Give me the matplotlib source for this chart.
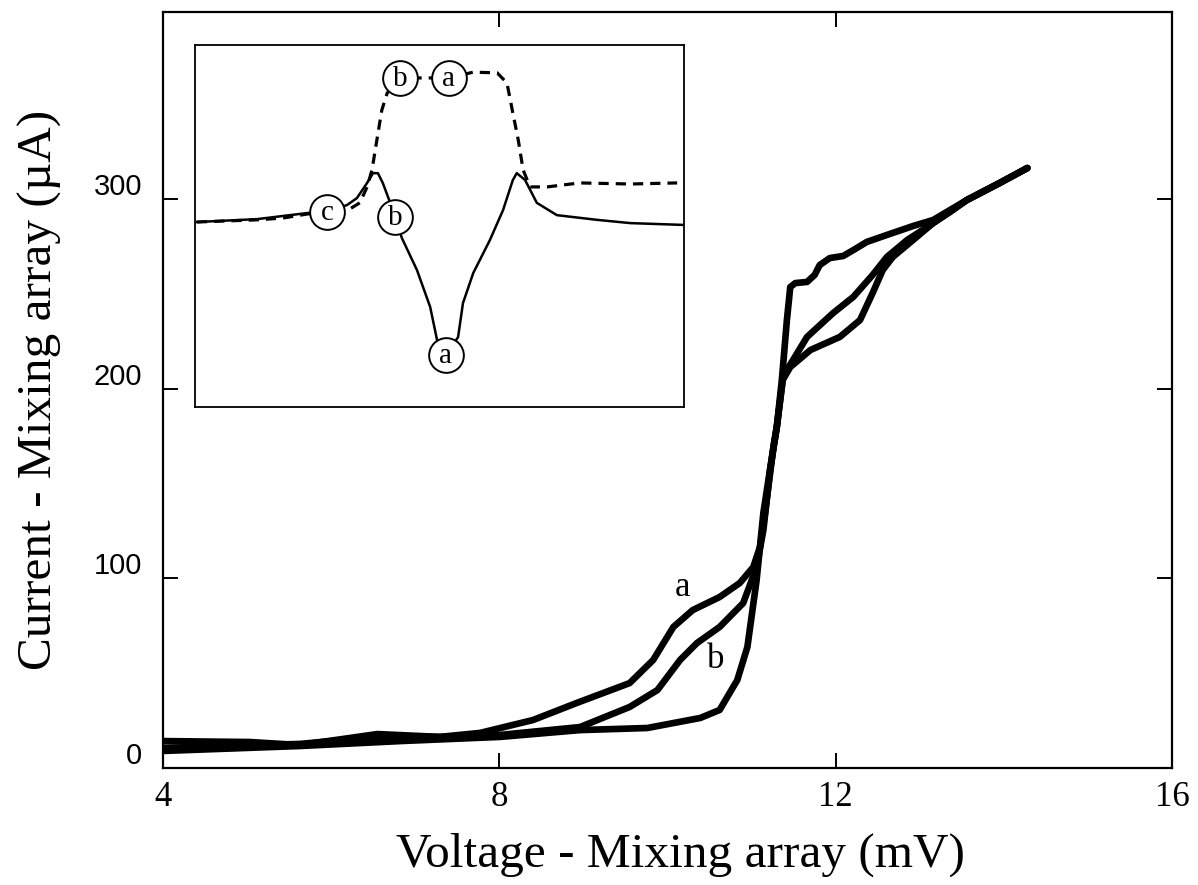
import matplotlib
matplotlib.use('Agg')
import matplotlib.pyplot as plt
from matplotlib.transforms import ScaledTranslation

# ---------------- data (main panel) ----------------
volt_a = [4.00, 5.03, 5.63, 6.55, 7.29, 7.77, 8.40, 8.92, 9.55, 9.83, 10.07, 10.30, 10.62,
          10.86, 11.02, 11.10, 11.16, 11.26, 11.30, 11.37, 11.46, 11.70, 12.05, 12.29,
          12.44, 12.56, 12.68, 12.92, 13.16, 13.56, 13.95, 14.28]
curr_a = [14.2, 13.7, 12.1, 17.9, 16.4, 18.5, 25.3, 34.3, 44.8, 57.0, 74.4, 83.3, 90.2,
          97.6, 106.0, 116.6, 134.5, 169.3, 179.9, 204.7, 211.5, 220.5, 227.4, 236.3,
          250.6, 262.7, 269.6, 278.5, 287.5, 299.6, 308.6, 316.5]

volt_b = [4.00, 5.63, 6.55, 7.77, 8.96, 9.55, 9.88, 10.15, 10.35, 10.62, 10.90, 11.06,
          11.14, 11.22, 11.30, 11.37, 11.42, 11.66, 11.97, 12.21, 12.44, 12.61, 12.85,
          13.09, 13.36, 13.56, 13.95, 14.28]
curr_b = [10.6, 12.7, 16.4, 16.4, 21.6, 32.2, 41.1, 57.0, 65.9, 74.4, 87.0, 106.0,
          125.5, 157.2, 179.9, 204.7, 209.9, 227.4, 240.0, 248.5, 260.1, 269.6, 278.5,
          285.4, 293.3, 299.6, 308.6, 316.5]

volt_c = [4.00, 5.63, 6.82, 8.01, 8.96, 9.76, 10.39, 10.62, 10.83, 10.95, 11.06, 11.14,
          11.20, 11.26, 11.30, 11.36, 11.42, 11.46, 11.52, 11.66, 11.75, 11.81, 11.93,
          12.09, 12.21, 12.37, 12.61, 12.92, 13.16, 13.56, 13.95, 14.28]
curr_c = [9.0, 11.6, 14.2, 16.4, 20.0, 21.1, 26.4, 30.6, 46.4, 63.8, 99.2, 134.5,
          151.9, 169.3, 179.9, 204.7, 236.3, 253.7, 255.8, 256.4, 260.1, 265.3, 269.0,
          270.1, 273.2, 277.5, 281.2, 285.9, 289.1, 299.6, 308.6, 316.5]

curve_labels = [("a", 10.18, 95.0), ("b", 10.57, 57.0)]

x_ticks = [4, 8, 12, 16]
y_ticks = [0, 100, 200, 300]

# ---------------- data (inset, arbitrary units) ----------------
ins_x_solid = [0.4, 12.7, 19.4, 23.1, 27.0, 31.1, 33.1, 35.2, 36.4, 37.4, 38.4, 39.7, 40.9,
               42.3, 45.4, 48.1, 49.5, 51.3, 53.8, 54.8, 56.9, 60.3, 63.0, 65.0, 65.8,
               67.5, 69.9, 74.0, 82.2, 89.0, 99.8]
ins_y_solid = [51.1, 51.9, 53.0, 53.6, 53.9, 55.8, 57.7, 61.9, 64.6, 64.6, 61.9, 57.2, 52.5,
               46.7, 37.8, 27.6, 18.5, 14.4, 19.3, 28.7, 37.0, 46.1, 54.4, 62.7, 64.6,
               62.7, 56.4, 53.0, 51.7, 50.8, 50.3]

ins_x_dash = [0.4, 12.7, 18.0, 22.9, 27.0, 31.3, 33.7, 35.2, 36.2, 37.2, 38.2, 39.3, 41.9,
              51.9, 56.9, 61.8, 63.8, 65.0, 66.1, 67.1, 68.5, 72.0, 78.7, 89.0, 98.6]
ins_y_dash = [51.1, 51.7, 52.2, 53.3, 53.9, 54.4, 56.4, 60.8, 65.5, 73.8, 82.0, 86.7, 90.9,
              90.9, 92.5, 92.3, 89.5, 81.2, 73.8, 65.5, 60.8, 60.8, 61.9, 61.6, 61.9]

ins_marks = [("c", 27.0, 53.9), ("b", 40.9, 52.5), ("a", 51.3, 14.4),
             ("b", 41.9, 90.9), ("a", 51.9, 90.9)]

# ---------------- figure ----------------
W, H = 1198, 885
fig = plt.figure(figsize=(W / 100, H / 100), dpi=100)
serif = "Liberation Serif"
sans = "Liberation Sans"

ax = fig.add_axes([163 / W, 1 - 768 / H, (1172 - 163) / W, (768 - 12) / H])
lw_main = 4.8
for vx, iy in [(volt_c, curr_c), (volt_b, curr_b), (volt_a, curr_a)]:
    ax.plot(vx, iy, color="black", lw=lw_main, solid_capstyle="round",
            solid_joinstyle="round")

for txt, vx, iy in curve_labels:
    ax.text(vx, iy, txt, fontsize=25, family=serif, ha="center", va="center")

ax.set_xlim(4, 16)
ax.set_ylim(0, 398.8)
ax.set_xticks(x_ticks)
ax.set_xticklabels([str(v) for v in x_ticks], fontsize=25, family=serif)
ax.set_yticks(y_ticks)
ax.set_yticklabels([str(v) for v in y_ticks], fontsize=21, family=sans)
ax.tick_params(axis="both", direction="in", length=11, width=1.4,
               top=True, right=True, color="black")
ax.tick_params(axis="x", pad=9)
ax.tick_params(axis="y", pad=15)
for s in ax.spines.values():
    s.set_linewidth(1.6)

ax.set_xlabel("Voltage - Mixing array (mV)", fontsize=35.5, family=serif)
ax.set_ylabel("Current - Mixing array (\u00b5A)", fontsize=35.5, family=serif)
ax.xaxis.set_label_coords((680 - 163) / (1172 - 163), -(855 - 768) / (768 - 12))
ax.xaxis.label.set_va("center")
ax.yaxis.set_label_coords(-(163 - 40) / (1172 - 163), 0.5)
ax.yaxis.label.set_va("center")

# inset
ax2 = fig.add_axes([195 / W, 1 - 407 / H, 489 / W, 362 / H])
ax2.plot(ins_x_solid, ins_y_solid, color="black", lw=1.8, zorder=2)
ax2.plot(ins_x_dash, ins_y_dash, color="black", lw=2.3, linestyle=(0, (3.2, 2.2)),
         zorder=2)
for txt, ix, iy in ins_marks:
    ax2.plot([ix], [iy], marker="o", ms=25, mfc="white", mec="black", mew=1.4,
             zorder=3, linestyle="none")
    ax2.annotate(txt, (ix, iy), xytext=(0, -6.0), textcoords="offset points",
                 fontsize=21, family=serif, ha="center", va="baseline", zorder=4)
ax2.set_xlim(0, 100)
ax2.set_ylim(0, 100)
ax2.set_xticks([])
ax2.set_yticks([])
for s in ax2.spines.values():
    s.set_linewidth(1.3)

# shift y tick labels upward like the reference
for lab in ax.get_yticklabels():
    lab.set_transform(lab.get_transform() +
                      ScaledTranslation(0, 15 / 100, fig.dpi_scale_trans))

fig.savefig("out.png", dpi=100, facecolor="white")
